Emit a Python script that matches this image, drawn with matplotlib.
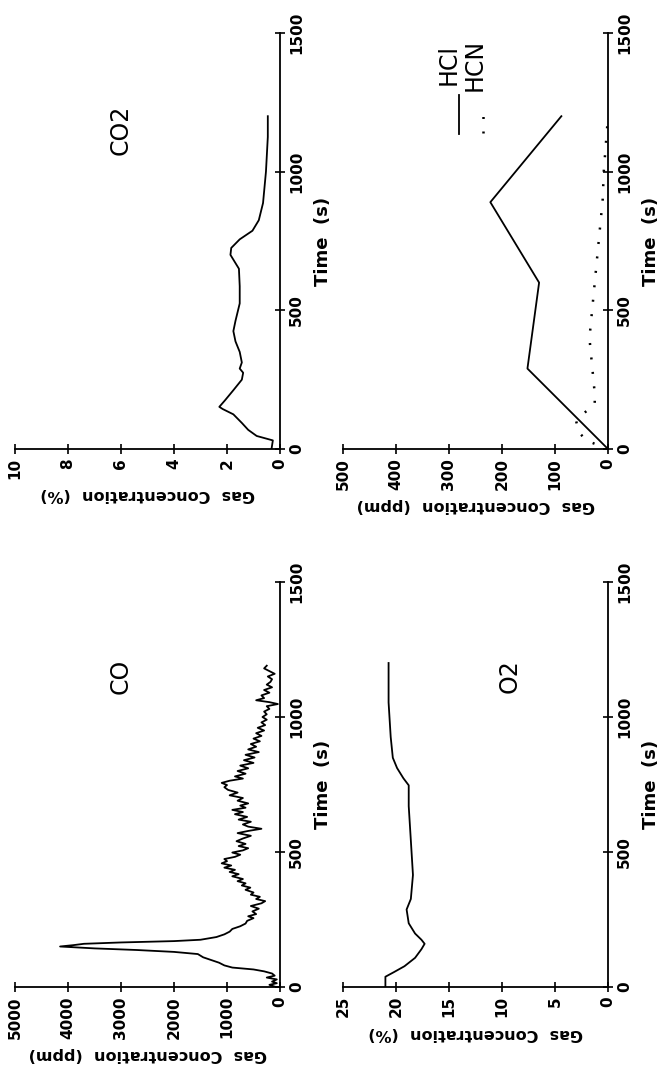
import matplotlib
matplotlib.use("Agg")
import matplotlib.pyplot as plt

# time (s) and concentration readings for each gas
co_t = [0, 8, 14, 20, 28, 35, 42, 50, 58, 65, 72, 80, 90, 100, 110, 122, 130, 137, 143, 150,
        155, 160, 165, 170, 175, 185, 195, 205, 215, 225, 235, 245, 255, 262, 270, 280, 290,
        300, 310, 318, 326, 334, 342, 350, 360, 368, 376, 384, 392, 400, 410, 418, 426, 434,
        442, 450, 458, 466, 474, 482, 490, 498, 506, 514, 522, 530, 540, 550, 560, 570, 578,
        586, 594, 602, 612, 620, 630, 640, 648, 656, 664, 672, 680, 690, 700, 710, 720, 730,
        740, 748, 756, 764, 772, 780, 790, 800, 810, 820, 830, 840, 850, 860, 870, 880, 890,
        900, 910, 920, 930, 940, 950, 960, 970, 980, 990, 1000, 1010, 1020, 1030, 1040, 1048,
        1055, 1062, 1070, 1080, 1090, 1100, 1110, 1120, 1130, 1140, 1150, 1160, 1170, 1180, 1190]
co_ppm = [80, 200, 60, 150, 60, 250, 100, 150, 300, 500, 900, 1050, 1150, 1300, 1450, 1550, 2000,
          2700, 3500, 4150, 3900, 3700, 3000, 2000, 1500, 1200, 1050, 950, 900, 750, 650, 620,
          500, 600, 450, 520, 400, 550, 350, 280, 450, 380, 550, 500, 650, 560, 720, 650, 800,
          700, 900, 780, 950, 850, 1050, 920, 1100, 1000, 1050, 850, 750, 900, 700, 600, 780,
          650, 820, 700, 550, 800, 600, 350, 600, 700, 550, 780, 620, 850, 700, 900, 650, 750,
          600, 800, 700, 950, 800, 980, 1050, 1000, 1100, 950, 700, 850, 650, 800, 600, 750,
          500, 680, 480, 650, 400, 600, 450, 550, 380, 500, 350, 450, 300, 420, 280, 350, 250,
          330, 250, 300, 200, 250, 40, 200, 450, 300, 350, 200, 300, 150, 250, 180, 150, 230,
          100, 200, 300, 250]

co2_t = [0, 31, 47, 69, 94, 125, 144, 152, 175, 212, 250, 275, 290, 312, 350, 388, 425, 462,
         525, 587, 650, 700, 725, 756, 787, 825, 887, 1000, 1125, 1200]
co2_pct = [0.32, 0.27, 0.88, 1.2, 1.44, 1.76, 2.16, 2.29, 2.08, 1.76, 1.44, 1.39, 1.52, 1.44,
           1.52, 1.68, 1.76, 1.68, 1.52, 1.52, 1.55, 1.87, 1.84, 1.52, 1.04, 0.8, 0.64, 0.53,
           0.46, 0.46]

o2_t = [0, 38, 55, 77, 108, 140, 160, 175, 198, 236, 287, 326, 415, 543, 670, 747, 773, 811,
        849, 926, 1054, 1200]
o2_pct = [21.0, 21.0, 20.2, 19.2, 18.2, 17.6, 17.3, 17.6, 18.2, 18.8, 19.0, 18.6, 18.4, 18.6,
          18.8, 18.8, 19.3, 19.9, 20.3, 20.5, 20.7, 20.7]

hcl_t = [0, 290, 600, 890, 1200]
hcl_ppm = [0, 152, 130, 222, 88]

hcn_t = [0, 30, 60, 100, 130, 160, 200, 300, 400, 500, 600, 700, 800, 900, 1000, 1100, 1200]
hcn_ppm = [0, 40, 55, 60, 45, 25, 25, 30, 35, 30, 25, 20, 15, 10, 8, 4, 0]

time_ticks = [0, 500, 1000, 1500]

W, H = 660, 1070
fig = plt.figure(figsize=(W / 100, H / 100), dpi=100)

tick_font = dict(family="DejaVu Sans", weight="bold", size=11)
name_font = ["Liberation Sans Narrow", "DejaVu Sans"]
dots = (0, (0.8, 5))


def panel(left, top, bottom, cmax, cstep, unit):
    # page is turned on its side: concentration grows to the left, time grows upward
    ax = fig.add_axes([left / W, 1 - bottom / H, 265 / W, (bottom - top) / H])
    ax.set_xlim(cmax, 0)
    ax.set_ylim(0, 1500)
    for s in ("top", "left"):
        ax.spines[s].set_visible(False)
    for s in ("bottom", "right"):
        ax.spines[s].set_linewidth(1.3)
    ax.yaxis.tick_right()
    ax.yaxis.set_label_position("right")
    ax.set_xticks(list(range(0, cmax + 1, cstep)))
    ax.set_yticks(time_ticks)
    ax.tick_params(direction="inout", length=7, width=1.2, pad=3)
    ax.set_xticklabels([str(v) for v in range(0, cmax + 1, cstep)], rotation=90, **tick_font)
    ax.set_yticklabels([str(v) for v in time_ticks], rotation=90, va="center", **tick_font)
    ax.set_xlabel("Gas  Concentration  (" + unit + ")", rotation=180, fontsize=11.5,
                  weight="bold", family="DejaVu Sans", labelpad=6)
    ax.set_ylabel("Time  (s)", rotation=90, fontsize=13, weight="bold",
                  family="DejaVu Sans", labelpad=7)
    return ax


ax_co2 = panel(15, 33, 449, 10, 2, "%")
ax_co2.plot(co2_pct, co2_t, color="black", lw=1.3)
ax_co2.text(6.0, 1150, "CO2", rotation=90, ha="center", va="center", fontsize=17,
            family=name_font)

ax_hcl = panel(343, 33, 449, 500, 100, "ppm")
ax_hcl.plot(hcl_ppm, hcl_t, color="black", lw=1.3)
ax_hcl.plot(hcn_ppm, hcn_t, color="black", lw=1.8, linestyle=dots)
ax_hcl.text(300, 1385, "HCl", rotation=90, ha="center", va="center", fontsize=17,
            family=name_font)
ax_hcl.text(252, 1385, "HCN", rotation=90, ha="center", va="center", fontsize=17,
            family=name_font)
ax_hcl.plot([282, 282], [1135, 1275], color="black", lw=1.3)
ax_hcl.plot([236, 236], [1140, 1240], color="black", lw=1.8, linestyle=dots)

ax_co = panel(15, 582, 987, 5000, 1000, "ppm")
ax_co.plot(co_ppm, co_t, color="black", lw=1.3)
ax_co.text(3000, 1150, "CO", rotation=90, ha="center", va="center", fontsize=17,
           family=name_font)

ax_o2 = panel(343, 582, 987, 25, 5, "%")
ax_o2.plot(o2_pct, o2_t, color="black", lw=1.3)
ax_o2.text(9.3, 1150, "O2", rotation=90, ha="center", va="center", fontsize=17,
           family=name_font)

fig.savefig("out.png", dpi=100)
